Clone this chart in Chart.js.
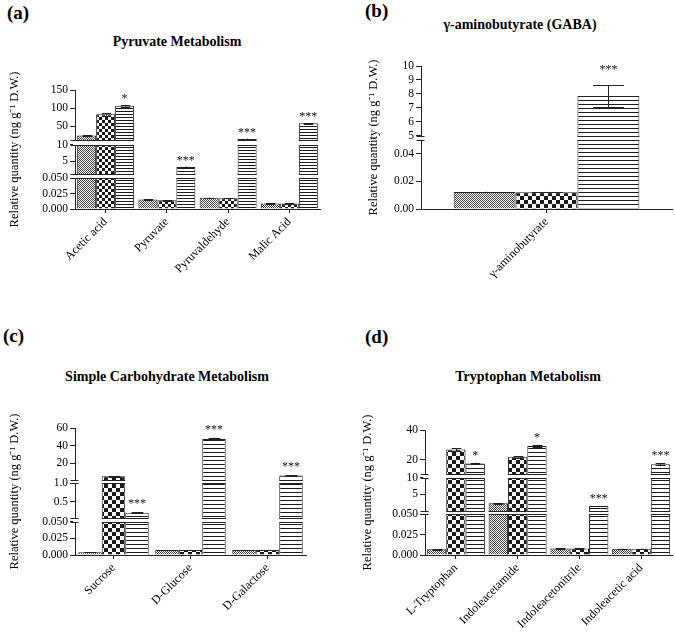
<!DOCTYPE html>
<html><head><meta charset="utf-8">
<script src="https://cdn.jsdelivr.net/npm/chart.js@4.4.1/dist/chart.umd.min.js"></script>
<style>
body{margin:0;background:#fff;}
#wrap{position:relative;width:675px;height:635px;overflow:hidden;background:#fff;font-family:'Liberation Serif',serif;color:#000}
canvas{position:absolute}
.lbl{position:absolute;font-weight:bold;font-size:19px;line-height:19px}
.ttl{position:absolute;font-weight:bold;font-size:14px;line-height:14px;width:300px;text-align:center;white-space:nowrap}
</style></head>
<body>
<div id="wrap">
<div class="lbl" style="left:7px;top:3px">(a)</div>
<div class="lbl" style="left:365px;top:1px">(b)</div>
<div class="lbl" style="left:3px;top:326px">(c)</div>
<div class="lbl" style="left:365px;top:327px">(d)</div>
<div class="ttl" style="left:27px;top:35px">Pyruvate Metabolism</div>
<div class="ttl" style="left:370px;top:18px">γ-aminobutyrate (GABA)</div>
<div class="ttl" style="left:17px;top:370px">Simple Carbohydrate Metabolism</div>
<div class="ttl" style="left:378px;top:370px">Tryptophan Metabolism</div>
<canvas id="ca" width="340" height="300" style="left:0;top:0"></canvas>
<canvas id="cb" width="335" height="300" style="left:340px;top:0"></canvas>
<canvas id="cc" width="340" height="335" style="left:0;top:300px"></canvas>
<canvas id="cd" width="335" height="335" style="left:340px;top:300px"></canvas>
</div>
<script>
// ---------- DATA ----------
// (a) Pyruvate Metabolism
const aCategories = ['Acetic acid', 'Pyruvate', 'Pyruvaldehyde', 'Malic Acid'];
const aSeries1 = [24, 0.0155, 0.018, 0.009];
const aSeries2 = [82.5, 0.014, 0.0175, 0.009];
const aSeries3 = [106.4, 3.2, 14, 57.5];
const aErr1 = [1, 0.0004, 0.0004, 0.0003];
const aErr2 = [4, 0.0004, 0.0004, 0.0003];
const aErr3 = [2.5, 0.1, 1, 1.2];
const aStars = ['*', '***', '***', '***'];
const aTickValues = [0, 0.025, 0.05, 5, 10, 50, 100, 150];
const aTickLabels = ['0.000', '0.025', '0.050', '5', '10', '50', '100', '150'];

// (b) GABA
const bCategories = ['γ-aminobutyrate'];
const bSeries1 = [0.0123];
const bSeries2 = [0.0122];
const bSeries3 = [7.85];
const bErr1 = [0.0002];
const bErr2 = [0.0002];
const bErr3 = [0.78];
const bStars = ['***'];
const bTickValues = [0, 0.02, 0.04, 5, 6, 7, 8, 9, 10];
const bTickLabels = ['0.00', '0.02', '0.04', '5', '6', '7', '8', '9', '10'];

// (c) Simple Carbohydrate Metabolism
const cCategories = ['Sucrose', 'D-Glucose', 'D-Galactose'];
const cSeries1 = [0.004, 0.0075, 0.0075];
const cSeries2 = [5, 0.0075, 0.0075];
const cSeries3 = [0.2, 47.5, 5.8];
const cErr1 = [0.0002, 0.0003, 0.0003];
const cErr2 = [0.3, 0.0003, 0.0003];
const cErr3 = [0.01, 1.5, 0.3];
const cStars = ['***', '***', '***'];
const cTickValues = [0, 0.025, 0.05, 0.5, 1.0, 20, 40, 60];
const cTickLabels = ['0.000', '0.025', '0.050', '0.5', '1.0', '20', '40', '60'];

// (d) Tryptophan Metabolism
const dCategories = ['L-Tryptophan', 'Indoleacetamide', 'Indoleacetonitrile', 'Indoleacetic acid'];
const dSeries1 = [0.007, 2.3, 0.008, 0.0075];
const dSeries2 = [26.7, 21.8, 0.008, 0.0075];
const dSeries3 = [17.3, 29.2, 1.45, 16.8];
const dErr1 = [0.0003, 0.1, 0.0003, 0.0003];
const dErr2 = [1, 0.6, 0.0003, 0.0003];
const dErr3 = [0.5, 0.8, 0.1, 0.5];
const dStars = ['*', '*', '***', '***'];
const dTickValues = [0, 0.025, 0.05, 5, 10, 20, 40];
const dTickLabels = ['0.000', '0.025', '0.050', '5', '10', '20', '40'];

// ---------- broken axis layout (value ranges and their share of the axis) ----------
const SEGMENTS = {
  ca: [{from:0,to:0.05,f0:0,f1:0.2605},{from:1,to:10,f0:0.294,f1:0.538},{from:10,to:150,f0:0.576,f1:1}],
  cb: [{from:0,to:0.05,f0:0,f1:0.482},{from:5,to:10,f0:0.512,f1:1}],
  cc: [{from:0,to:0.05,f0:0,f1:0.263},{from:0.05,to:1,f0:0.290,f1:0.566},{from:1,to:60,f0:0.592,f1:1}],
  cd: [{from:0,to:0.05,f0:0,f1:0.328},{from:0.05,to:10,f0:0.354,f1:0.618},{from:10,to:40,f0:0.646,f1:1}]
};
const TICKS = {ca:[aTickValues,aTickLabels], cb:[bTickValues,bTickLabels], cc:[cTickValues,cTickLabels], cd:[dTickValues,dTickLabels]};
const ERRS = {ca:[aErr1,aErr2,aErr3], cb:[bErr1,bErr2,bErr3], cc:[cErr1,cErr2,cErr3], cd:[dErr1,dErr2,dErr3]};
const STARS = {ca:aStars, cb:bStars, cc:cStars, cd:dStars};

class BrokenScale extends Chart.LinearScale {
  _segs(){ return SEGMENTS[this.chart.canvas.id]; }
  determineDataLimits(){ const s=this._segs(); this.min=s[0].from; this.max=s[s.length-1].to; }
  buildTicks(){ return TICKS[this.chart.canvas.id][0].map(v=>({value:v})); }
  toFraction(v){
    const s=this._segs();
    for(let k=0;k<s.length;k++){
      const g=s[k];
      if(v<=g.to||k===s.length-1){
        const c=Math.min(Math.max(v,g.from),g.to);
        return g.f0+(c-g.from)/(g.to-g.from)*(g.f1-g.f0);
      }
    }
    return 0;
  }
  getPixelForValue(v){ if(v===null||v===undefined||isNaN(v)) return NaN; return this.getPixelForDecimal(this.toFraction(v)); }
  getValueForPixel(p){
    const d=this.getDecimalForPixel(p); const s=this._segs();
    for(const g of s){ if(d<=g.f1) return g.from+Math.max(0,d-g.f0)/(g.f1-g.f0)*(g.to-g.from); }
    return s[s.length-1].to;
  }
}
BrokenScale.id='broken';
BrokenScale.defaults={};
Chart.register(BrokenScale);

function tile(fn,w,h,col){ const c=document.createElement('canvas'); c.width=w; c.height=h; const x=c.getContext('2d'); x.fillStyle='#fff'; x.fillRect(0,0,w,h); x.fillStyle=col||'#1a1a1a'; fn(x); return x.createPattern(c,'repeat'); }
function finePat(){ return tile(x=>{x.fillRect(0,0,1,1);x.fillRect(1,1,1,1);},2,2,'#444'); }
function checkPat(s){ return tile(x=>{x.fillRect(0,0,s,s);x.fillRect(s,s,s,s);},2*s,2*s); }
function stripePat(s){ return tile(x=>{x.fillRect(0,0,1,1);},1,s); }

const PANEL = {
  ca:{pad:{left:0,top:90,right:20,bottom:0}, yw:75, xh:91, cat:0.93, chk:3, str:3, starOff:3},
  cb:{pad:{left:19,top:66,right:3,bottom:0}, yw:62, xh:91, cat:0.74, chk:4, str:4, starOff:12},
  cc:{pad:{left:0,top:128,right:34,bottom:0}, yw:75, xh:80, cat:0.915, chk:4, str:4, starOff:5},
  cd:{pad:{left:13,top:130,right:3,bottom:0}, yw:72, xh:80, cat:0.94, chk:4, str:4, starOff:4}
};

function line(ctx,x1,y1,x2,y2){ ctx.beginPath(); ctx.moveTo(x1,y1); ctx.lineTo(x2,y2); ctx.stroke(); }

const decor = {
  id:'decor',
  afterDatasetsDraw(chart){
    const id=chart.canvas.id, ctx=chart.ctx, ys=chart.scales.y, ca=chart.chartArea, segs=SEGMENTS[id];
    ctx.save();
    ctx.strokeStyle='#222'; ctx.lineWidth=1;
    for(let k=1;k<segs.length;k++){
      const pLow=Math.round(ys.getPixelForDecimal(segs[k-1].f1))+0.5;
      const pHigh=Math.round(ys.getPixelForDecimal(segs[k].f0))+0.5;
      ctx.fillStyle='#fff';
      ctx.fillRect(ca.left-2,pHigh,ca.right-ca.left+4,pLow-pHigh);
      chart.data.datasets.forEach((ds,i)=>{
        chart.getDatasetMeta(i).data.forEach((bar,j)=>{
          if(ds.data[j]>segs[k-1].to){
            const w=bar.width;
            line(ctx,bar.x-w/2,pLow,bar.x+w/2,pLow);
            line(ctx,bar.x-w/2,pHigh,bar.x+w/2,pHigh);
          }
        });
      });
      const ax=Math.round(ca.left)+0.5;
      line(ctx,ax-5,pLow,ax+3,pLow);
      line(ctx,ax-5,pHigh,ax+3,pHigh);
    }
    // error bars
    const errs=ERRS[id];
    chart.data.datasets.forEach((ds,i)=>{
      chart.getDatasetMeta(i).data.forEach((bar,j)=>{
        const v=ds.data[j], e=errs[i][j];
        if(!e) return;
        const yt=ys.getPixelForValue(v+e), yb=ys.getPixelForValue(v-e);
        const x=Math.round(bar.x)+0.5, hw=bar.width*0.25;
        line(ctx,x,yt,x,yb);
        line(ctx,x-hw,Math.round(yt)+0.5,x+hw,Math.round(yt)+0.5);
        line(ctx,x-hw,Math.round(yb)+0.5,x+hw,Math.round(yb)+0.5);
      });
    });
    // significance stars over third series
    const stars=STARS[id], ds3=chart.data.datasets[2], m3=chart.getDatasetMeta(2);
    ctx.fillStyle='#111'; ctx.font='12px "Liberation Serif", serif'; ctx.textAlign='center'; ctx.textBaseline='alphabetic';
    stars.forEach((s,j)=>{
      if(!s) return;
      const top=ys.getPixelForValue(ds3.data[j]+errs[2][j]);
      ctx.fillText(s,m3.data[j].x,top-PANEL[id].starOff);
    });
    ctx.restore();
  }
};

const FONT='"Liberation Serif", serif';
function makeChart(id,cats,s1,s2,s3){
  const P=PANEL[id];
  const mk=(data,bg)=>({data,backgroundColor:bg,borderColor:'#222',borderWidth:1,categoryPercentage:P.cat,barPercentage:1});
  new Chart(document.getElementById(id),{
    type:'bar',
    data:{labels:cats,datasets:[mk(s1,finePat()),mk(s2,checkPat(P.chk)),mk(s3,stripePat(P.str))]},
    options:{
      responsive:false, animation:false, devicePixelRatio:1,
      layout:{padding:P.pad},
      plugins:{legend:{display:false},tooltip:{enabled:false},title:{display:false}},
      scales:{
        x:{
          grid:{display:true,drawOnChartArea:false,drawTicks:true,tickLength:4,offset:false,color:'#222'},
          border:{display:true,color:'#222',width:1},
          ticks:{autoSkip:false,maxRotation:45,minRotation:45,color:'#000',padding:2,font:{family:FONT,size:12}},
          afterFit(s){ s.height=P.xh; }
        },
        y:{
          type:'broken',
          grid:{display:true,drawOnChartArea:false,drawTicks:true,tickLength:5,color:'#222'},
          border:{display:true,color:'#222',width:1},
          ticks:{autoSkip:false,color:'#000',padding:2,font:{family:FONT,size:11.5},
                 callback:(v,i)=>TICKS[id][1][i]},
          title:{display:true,text:'Relative quantity (ng g\u207B\u00B9 D.W.)',color:'#000',
                 font:{family:FONT,size:12.5},padding:{top:7,bottom:0}},
          afterFit(s){ s.width=P.yw; }
        }
      }
    },
    plugins:[decor]
  });
}
makeChart('ca',aCategories,aSeries1,aSeries2,aSeries3);
makeChart('cb',bCategories,bSeries1,bSeries2,bSeries3);
makeChart('cc',cCategories,cSeries1,cSeries2,cSeries3);
makeChart('cd',dCategories,dSeries1,dSeries2,dSeries3);
</script>
</body></html>
